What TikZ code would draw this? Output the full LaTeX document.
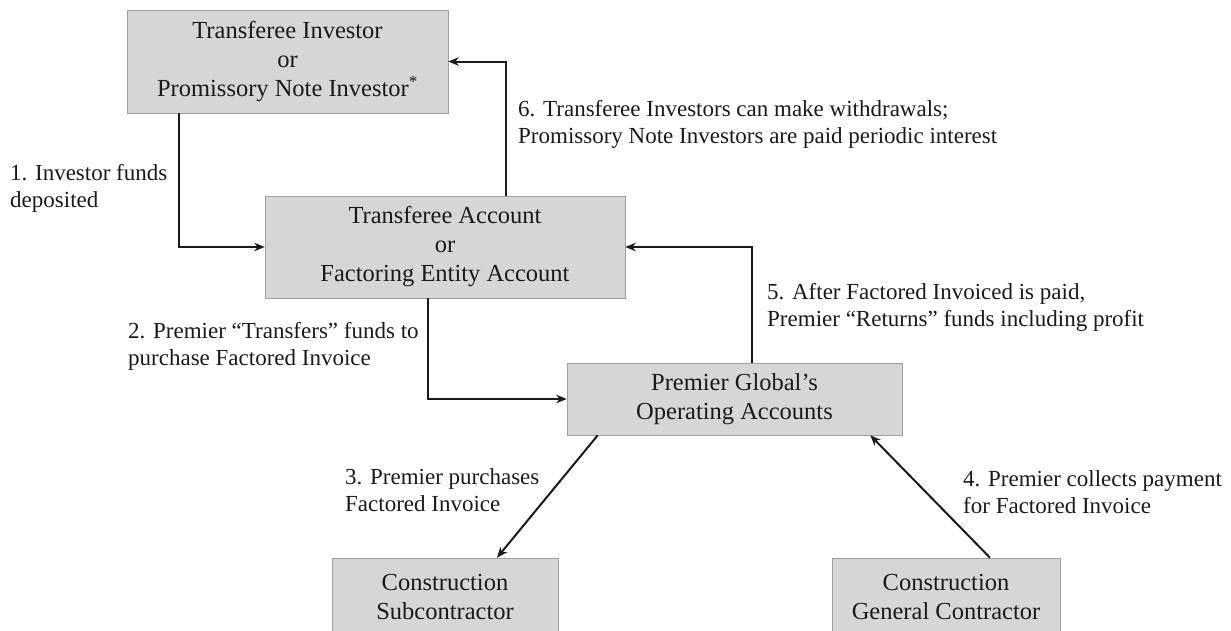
\documentclass[tikz,border=0pt]{standalone}
\usepackage{fontspec}
\setmainfont{Liberation Serif}
\usepackage{tikz}
\usetikzlibrary{arrows.meta, positioning, calc}
\definecolor{fboxfill}{HTML}{D6D6D6}
\definecolor{fboxline}{HTML}{A0A0A0}
\definecolor{fink}{HTML}{1A1A1A}
\tikzset{
  fbox/.style={draw=fboxline, fill=fboxfill, line width=0.6pt, align=center,
               font=\fontsize{24.5}{29}\selectfont, text=fink, inner sep=0pt},
  lbl/.style={anchor=north west, align=left, inner sep=0pt,
              font=\fontsize{23}{27.5}\selectfont, text=fink},
  arr/.style={-{Stealth[length=10.5pt,width=8.5pt]}, line width=2pt, fink},
}

\begin{document}
\begin{tikzpicture}[x=1pt, y=-1pt]
  \useasboundingbox (0,0) rectangle (1231,630);

  %% boxes
  \node[fbox, minimum width=321pt, minimum height=103pt] (inv) at (287.5, 61.5)
    {Transferee Investor\\or\\Promissory Note Investor\textsuperscript{*}};
  \node[fbox, minimum width=360pt, minimum height=102pt] (acct) at (445, 247)
    {Transferee Account\\or\\Factoring Entity Account};
  \node[fbox, minimum width=335pt, minimum height=72pt] (pgo) at (734.5, 399)
    {Premier Global's\\Operating Accounts};
  \node[fbox, minimum width=226pt, minimum height=78pt] (sub) at (445, 597)
    {Construction\\Subcontractor};
  \node[fbox, minimum width=228pt, minimum height=78pt] (gc) at (946, 597)
    {Construction\\General Contractor};

  %% connectors
  \draw[arr] ([xshift=52pt]inv.south west) |- (acct.west);
  \draw[arr] ([xshift=241pt]acct.north west) |- (inv.east);
  \draw[arr] ([xshift=163pt]acct.south west) |- (pgo.west);
  \draw[arr] ([xshift=185pt]pgo.north west) |- (acct.east);
  \draw[arr] ([xshift=31pt]pgo.south west) -- ([xshift=52pt]sub.north);
  \draw[arr] ([xshift=44pt]gc.north) -- ([xshift=-32pt]pgo.south east);

  %% labels
  \node[lbl] (l1) at (10, 164) {1. Investor funds\\deposited};
  \node[lbl] (l2) at (128, 322) {2. Premier ``Transfers'' funds to\\purchase Factored Invoice};
  \node[lbl] (l3) at (345, 468) {3. Premier purchases\\Factored Invoice};
  \node[lbl] (l4) at (963, 470) {4. Premier collects payment\\for Factored Invoice};
  \node[lbl] (l5) at (767, 283) {5. After Factored Invoiced is paid,\\Premier ``Returns'' funds including profit};
  \node[lbl] (l6) at (518, 100) {6. Transferee Investors can make withdrawals;\\Promissory Note Investors are paid periodic interest};
\end{tikzpicture}
\end{document}
